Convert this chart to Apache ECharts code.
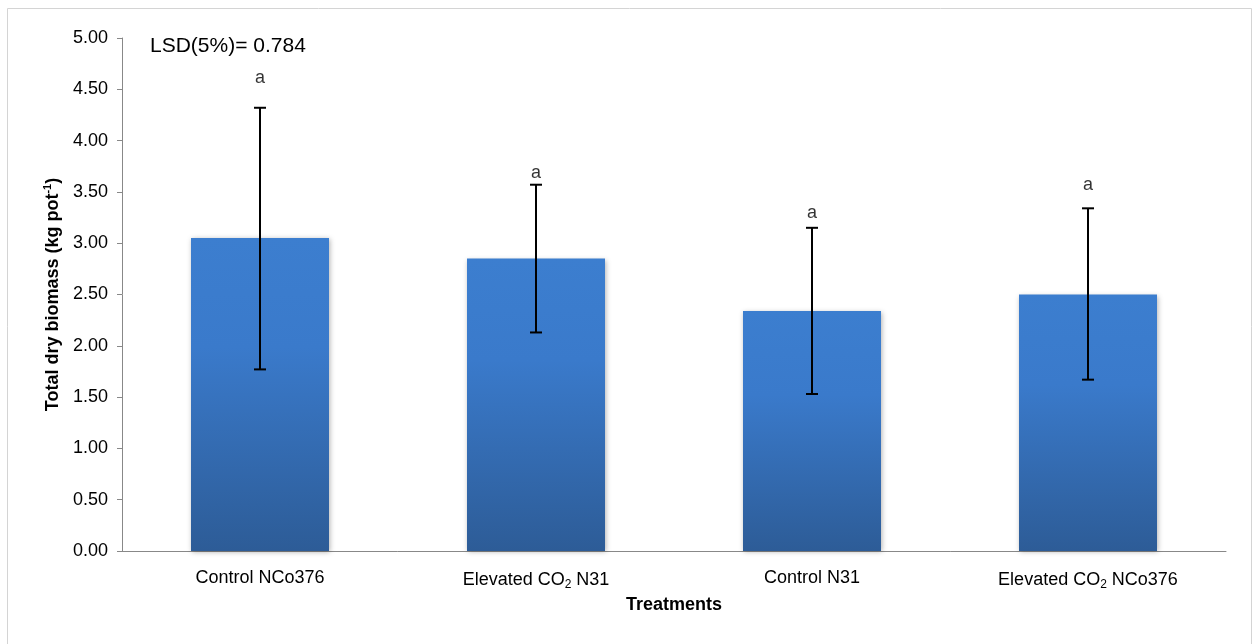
<!DOCTYPE html>
<html>
<head>
<meta charset="utf-8">
<script src="https://cdn.jsdelivr.net/npm/echarts@6/dist/echarts.min.js"></script>
<style>
  html, body { margin: 0; padding: 0; background: #fff; }
  #chart { width: 1255px; height: 644px; }
</style>
</head>
<body>
<div id="chart"></div>
<script>
'use strict';

// chart values
var treatments = ['Control NCo376', 'Elevated CO{sub|2} N31', 'Control N31', 'Elevated CO{sub|2} NCo376'];
var biomass    = [3.05, 2.85, 2.34, 2.50];
var errLow     = [1.77, 2.13, 1.53, 1.67];
var errHigh    = [4.32, 3.57, 3.15, 3.34];
var letters    = ['a', 'a', 'a', 'a'];
var letterPos  = [4.61, 3.68, 3.29, 3.57];
var yTicks     = [0, 0.5, 1, 1.5, 2, 2.5, 3, 3.5, 4, 4.5, 5];
var lsdText    = 'LSD(5%)= 0.784';

var chart = echarts.init(document.getElementById('chart'));
var font = 'Liberation Sans, Arial, sans-serif';

// error bars: vertical line with a cap at each end
function drawErr(params, api) {
    var x = api.value(0);
    var lo = api.coord([x, api.value(1)]);
    var hi = api.coord([x, api.value(2)]);
    var cap = 6;
    var style = { stroke: '#000', lineWidth: 2 };
    return {
        type: 'group',
        children: [
            { type: 'line', shape: { x1: hi[0], y1: hi[1], x2: lo[0], y2: lo[1] }, style: style },
            { type: 'line', shape: { x1: hi[0] - cap, y1: hi[1], x2: hi[0] + cap, y2: hi[1] }, style: style },
            { type: 'line', shape: { x1: lo[0] - cap, y1: lo[1], x2: lo[0] + cap, y2: lo[1] }, style: style }
        ]
    };
}

var errData = treatments.map(function (t, i) { return [i, errLow[i], errHigh[i]]; });
var letterData = letterPos.map(function (v, i) { return [i, v, letters[i]]; });

var option = {
    backgroundColor: '#fff',
    animation: false,
    textStyle: { fontFamily: font },
    grid: { left: 122, right: 29, top: 38, bottom: 93 },
    graphic: [
        {
            type: 'rect',
            shape: { x: 7.5, y: 8.5, width: 1244, height: 640 },
            style: { fill: 'none', stroke: '#d4d4d4', lineWidth: 1 },
            silent: true
        },
        {
            type: 'text',
            x: 150, y: 46,
            style: { text: lsdText, font: '21px ' + font, fill: '#000', verticalAlign: 'middle' }
        }
    ],
    xAxis: {
        type: 'category',
        data: treatments,
        name: 'Treatments',
        nameLocation: 'middle',
        nameGap: 44,
        nameTextStyle: { fontWeight: 'bold', fontSize: 18, color: '#000', verticalAlign: 'top' },
        axisLine: { lineStyle: { color: '#888', width: 1 } },
        axisTick: { show: false },
        axisLabel: {
            interval: 0,
            margin: 18,
            color: '#000',
            fontSize: 18,
            rich: {
                sub: { fontSize: 12, verticalAlign: 'bottom', lineHeight: 22, color: '#000' }
            }
        }
    },
    yAxis: {
        type: 'value',
        min: 0, max: 5, interval: 0.5,
        name: 'Total dry biomass (kg pot{sup|-1})',
        nameLocation: 'middle',
        nameGap: 57,
        nameTextStyle: {
            fontWeight: 'bold', fontSize: 18, color: '#000',
            rich: { sup: { fontSize: 11, fontWeight: 'bold', verticalAlign: 'top', lineHeight: 22, color: '#000' } }
        },
        axisLine: { show: true, lineStyle: { color: '#888', width: 1 } },
        axisTick: { show: true, length: 5, lineStyle: { color: '#888' } },
        splitLine: { show: false },
        axisLabel: {
            margin: 14,
            color: '#000',
            fontSize: 18,
            formatter: function (v) { return v.toFixed(2); }
        }
    },
    series: [
        {
            type: 'bar',
            data: biomass,
            barWidth: '50%',
            itemStyle: {
                color: new echarts.graphic.LinearGradient(0, 0, 0, 1, [
                    { offset: 0, color: '#3c7ecf' },
                    { offset: 0.35, color: '#3a7acb' },
                    { offset: 1, color: '#2d5c97' }
                ]),
                shadowColor: 'rgba(0,0,0,0.3)',
                shadowBlur: 5,
                shadowOffsetX: 1,
                shadowOffsetY: 1
            },
            z: 2
        },
        {
            type: 'custom',
            renderItem: drawErr,
            data: errData,
            encode: { x: 0, y: [1, 2] },
            z: 5
        },
        {
            type: 'scatter',
            data: letterData,
            symbolSize: 0,
            label: {
                show: true,
                position: 'inside',
                formatter: function (p) { return p.data[2]; },
                color: '#000',
                fontSize: 18
            },
            z: 6
        }
    ]
};

chart.setOption(option);
</script>
</body>
</html>
